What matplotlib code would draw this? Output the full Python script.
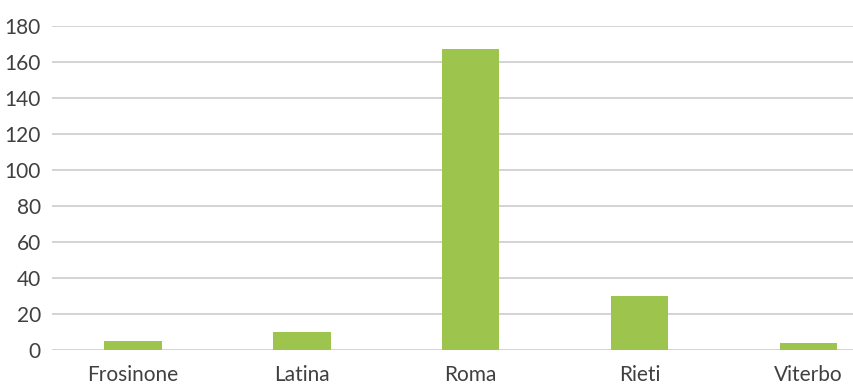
import matplotlib.pyplot as plt

provinces = ["Frosinone", "Latina", "Roma", "Rieti", "Viterbo"]
counts = [5, 10, 167, 30, 4]
y_ticks = list(range(0, 181, 20))

plt.rcParams['font.family'] = ['Lato', 'DejaVu Sans']

W, H = 854, 385
fig = plt.figure(figsize=(W / 100, H / 100), dpi=100)
ax = fig.add_axes([52 / W, 35 / H, (W - 52) / W, 324 / H])

ax.bar(range(len(provinces)), counts, width=0.34, color="#9dc44d", zorder=3)

ax.set_ylim(0, 180)
ax.set_xlim(-0.48, 4.27)
ax.set_yticks(y_ticks)
ax.set_xticks(range(len(provinces)))
ax.set_xticklabels(provinces)
ax.grid(axis="y", color="#d0d0d0", linewidth=1.3, zorder=0)
for s in ax.spines.values():
    s.set_visible(False)
ax.tick_params(length=0, labelsize=15, labelcolor="#404040")
ax.tick_params(axis="y", pad=8)
ax.tick_params(axis="x", pad=11)

fig.savefig("out.png", dpi=100)
